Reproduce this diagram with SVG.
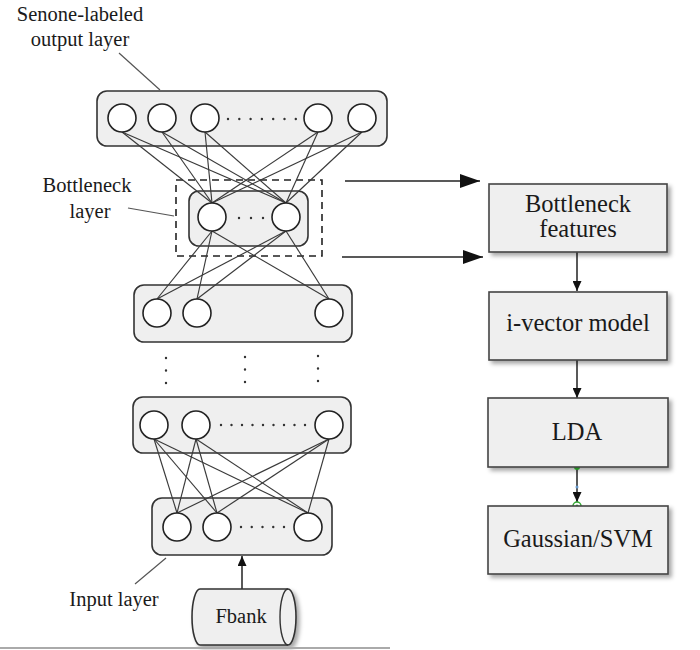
<svg xmlns="http://www.w3.org/2000/svg" width="700" height="650" viewBox="0 0 700 650">
<style>
.layer{fill:#efefef;stroke:#333;stroke-width:1.6}
.neuron{fill:#fff;stroke:#222;stroke-width:1.6}
.conn{stroke:#3a3a3a;stroke-width:1.15;fill:none}
.dots{stroke:#333;stroke-width:2.4;stroke-linecap:round;fill:none}
.lbl{font-family:"Liberation Serif","Times New Roman",serif;font-size:20.5px;fill:#1a1a1a;text-anchor:middle}
.blbl{font-family:"Liberation Serif","Times New Roman",serif;font-size:24.5px;fill:#1a1a1a;text-anchor:middle}
.box{fill:#efefef;stroke:#444;stroke-width:1.6}
.lead{stroke:#555;stroke-width:1.2;fill:none}
.arr{stroke:#222;stroke-width:1.5;fill:none}
</style>
<defs>
<filter id="sh" x="-10%" y="-10%" width="130%" height="130%">
<feDropShadow dx="3" dy="3" stdDeviation="2" flood-color="#000" flood-opacity="0.35"/>
</filter>
<marker id="bigHead" viewBox="0 0 20 14" refX="20" refY="7" markerWidth="20" markerHeight="14" markerUnits="userSpaceOnUse" orient="auto">
<path d="M0,0 L20,7 L0,14 Z" fill="#111"/>
</marker>
<marker id="smHead" viewBox="0 0 10 9" refX="10" refY="4.5" markerWidth="10" markerHeight="9" markerUnits="userSpaceOnUse" orient="auto">
<path d="M0,0 L10,4.5 L0,9 Z" fill="#111"/>
</marker>
</defs>
<rect width="700" height="650" fill="#fff"/>

<!-- layer boxes -->
<g id="output-layer">
<rect class="layer" x="97" y="91" width="290" height="55" rx="10"/>
</g>
<g id="bottleneck-layer">
<rect x="176" y="180" width="146" height="76" fill="none" stroke="#222" stroke-width="1.6" stroke-dasharray="7,5"/>
<rect class="layer" x="189" y="191" width="119" height="55" rx="10"/>
</g>
<g id="hidden-layer-3">
<rect class="layer" x="134" y="285" width="218" height="57" rx="10"/>
</g>
<g id="hidden-layer-4">
<rect class="layer" x="133" y="397" width="218" height="56" rx="10"/>
</g>
<g id="input-layer">
<rect class="layer" x="152" y="498" width="180" height="57" rx="10"/>
</g>

<!-- connectors -->
<g id="connectors">
<line class="conn" x1="122" y1="132" x2="212" y2="203"/>
<line class="conn" x1="122" y1="132" x2="286" y2="203"/>
<line class="conn" x1="162" y1="132" x2="212" y2="203"/>
<line class="conn" x1="162" y1="132" x2="286" y2="203"/>
<line class="conn" x1="205" y1="132" x2="212" y2="203"/>
<line class="conn" x1="205" y1="132" x2="286" y2="203"/>
<line class="conn" x1="318" y1="132" x2="212" y2="203"/>
<line class="conn" x1="318" y1="132" x2="286" y2="203"/>
<line class="conn" x1="362" y1="132" x2="212" y2="203"/>
<line class="conn" x1="362" y1="132" x2="286" y2="203"/>
<line class="conn" x1="212" y1="231" x2="157" y2="299"/>
<line class="conn" x1="212" y1="231" x2="197" y2="299"/>
<line class="conn" x1="212" y1="231" x2="329" y2="299"/>
<line class="conn" x1="286" y1="231" x2="157" y2="299"/>
<line class="conn" x1="286" y1="231" x2="197" y2="299"/>
<line class="conn" x1="286" y1="231" x2="329" y2="299"/>
<line class="conn" x1="154" y1="439" x2="177" y2="513"/>
<line class="conn" x1="154" y1="439" x2="217" y2="513"/>
<line class="conn" x1="154" y1="439" x2="308" y2="513"/>
<line class="conn" x1="196" y1="439" x2="177" y2="513"/>
<line class="conn" x1="196" y1="439" x2="217" y2="513"/>
<line class="conn" x1="196" y1="439" x2="308" y2="513"/>
<line class="conn" x1="329" y1="439" x2="177" y2="513"/>
<line class="conn" x1="329" y1="439" x2="217" y2="513"/>
<line class="conn" x1="329" y1="439" x2="308" y2="513"/>
<line class="lead" x1="119" y1="53" x2="160" y2="90"/>
<line class="lead" x1="128" y1="208" x2="174" y2="216"/>
<line class="lead" x1="166" y1="558" x2="135" y2="584"/>
<line class="arr" x1="242" y1="589" x2="242" y2="556" marker-end="url(#smHead)"/>
<line class="arr" x1="345" y1="181" x2="480" y2="181" marker-end="url(#bigHead)"/>
<line class="arr" x1="342" y1="257" x2="483" y2="257" marker-end="url(#bigHead)"/>
<line class="arr" x1="577" y1="252" x2="577" y2="291" marker-end="url(#smHead)"/>
<line class="arr" x1="577" y1="360" x2="577" y2="398" marker-end="url(#smHead)"/>
<line class="arr" x1="577" y1="467" x2="577" y2="502" stroke="#335" marker-end="url(#smHead)"/>
<circle cx="577" cy="467" r="3" fill="#3c3"/>
<circle cx="577" cy="487" r="1.5" fill="#69c"/>
<circle cx="577" cy="506" r="4" fill="#fff" stroke="#3a3" stroke-width="1.5"/>
<circle cx="577" cy="506" r="1.5" fill="#3a3"/>
</g>

<!-- neurons -->
<g id="output-neurons">
<circle class="neuron" cx="122" cy="118" r="14"/>
<circle class="neuron" cx="162" cy="118" r="14"/>
<circle class="neuron" cx="205" cy="118" r="14"/>
<circle class="neuron" cx="318" cy="118" r="14"/>
<circle class="neuron" cx="362" cy="118" r="14"/>
<line class="dots" x1="228" y1="119" x2="296.5" y2="119" stroke-dasharray="0,11.3"/>
</g>
<g id="bottleneck-neurons">
<circle class="neuron" cx="212" cy="217" r="14"/>
<circle class="neuron" cx="286" cy="217" r="14"/>
<line class="dots" x1="239" y1="218" x2="263.5" y2="218" stroke-dasharray="0,12"/>
</g>
<g id="layer3-neurons">
<circle class="neuron" cx="157" cy="313" r="14"/>
<circle class="neuron" cx="197" cy="313" r="14"/>
<circle class="neuron" cx="329" cy="313" r="14"/>
</g>
<g id="vertical-dots">
<line class="dots" x1="166" y1="358" x2="166" y2="383.5" stroke-dasharray="0,12.5"/>
<line class="dots" x1="245" y1="357" x2="245" y2="382.5" stroke-dasharray="0,12.5"/>
<line class="dots" x1="318" y1="356" x2="318" y2="381.5" stroke-dasharray="0,12.5"/>
</g>
<g id="layer4-neurons">
<circle class="neuron" cx="154" cy="425" r="14"/>
<circle class="neuron" cx="196" cy="425" r="14"/>
<circle class="neuron" cx="329" cy="425" r="14"/>
<line class="dots" x1="221" y1="425" x2="305.5" y2="425" stroke-dasharray="0,10.5"/>
</g>
<g id="input-neurons">
<circle class="neuron" cx="177" cy="527" r="14"/>
<circle class="neuron" cx="217" cy="527" r="14"/>
<circle class="neuron" cx="308" cy="527" r="14"/>
<line class="dots" x1="241" y1="527" x2="284.5" y2="527" stroke-dasharray="0,10.75"/>
</g>

<!-- labels -->
<g id="label-output">
<text class="lbl" x="80" y="21">Senone-labeled</text>
<text class="lbl" x="80" y="46">output layer</text>
</g>
<g id="label-bottleneck">
<text class="lbl" x="87" y="192">Bottleneck</text>
<text class="lbl" x="90" y="218">layer</text>
</g>
<g id="label-input">
<text class="lbl" x="114" y="606">Input layer</text>
</g>

<g id="fbank">
<path d="M200,589 H288 A8,28 0 0 1 288,645 H200 A8,28 0 0 1 200,589 Z" fill="#efefef" stroke="#333" stroke-width="1.6" filter="url(#sh)"/>
<path d="M288,589 A8,28 0 0 0 288,645" fill="none" stroke="#333" stroke-width="1.4"/>
<text class="lbl" x="241" y="623">Fbank</text>
</g>

<g id="bottleneck-features">
<rect class="box" x="489" y="184" width="178" height="68" filter="url(#sh)"/>
<text class="blbl" x="578" y="212">Bottleneck</text>
<text class="blbl" x="578" y="237">features</text>
</g>
<g id="ivector-model">
<rect class="box" x="489" y="292" width="178" height="68" filter="url(#sh)"/>
<text class="blbl" x="578" y="331">i-vector model</text>
</g>
<g id="lda">
<rect class="box" x="488" y="398" width="180" height="69" filter="url(#sh)"/>
<text class="blbl" x="577" y="440">LDA</text>
</g>
<g id="gaussian-svm">
<rect class="box" x="488" y="506" width="180" height="68" filter="url(#sh)"/>
<text class="blbl" x="578" y="547">Gaussian/SVM</text>
</g>

<line x1="0" y1="648" x2="390" y2="648" stroke="#aaa" stroke-width="2"/>
</svg>
